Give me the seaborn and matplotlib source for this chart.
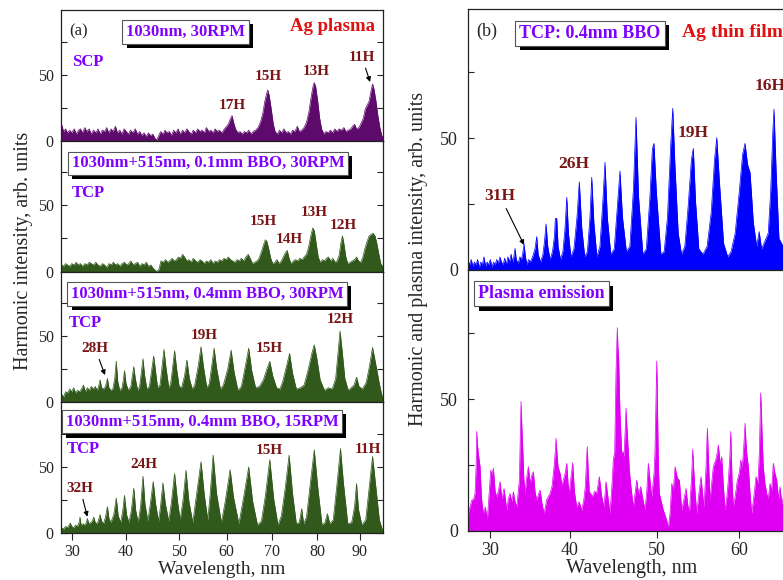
"""
HHG spectra from Ag plasma / Ag thin film (single- and two-colour pump)
"""
import numpy as np
import pandas as pd
import matplotlib
matplotlib.use("Agg")
import matplotlib.pyplot as plt
import matplotlib.patheffects as pe
from matplotlib.ticker import MultipleLocator, NullLocator
import seaborn as sns

# (wavelength nm, intensity arb. units)
scp_30rpm = [
    (27.93, 10), (28.14, 12), (28.5, 7), (28.86, 9), (29.22, 6), (29.64, 8), (30.0, 6), (30.45, 9),
    (30.9, 5), (31.26, 8), (31.62, 9), (31.98, 6), (32.43, 10), (32.79, 7), (33.24, 9), (33.6, 5),
    (34.05, 8), (34.5, 6), (34.86, 9), (35.31, 5), (35.67, 8), (36.12, 7), (36.48, 10), (36.84, 6),
    (37.29, 9), (37.65, 7), (38.1, 11), (38.46, 6), (38.91, 8), (39.28, 5), (39.72, 9), (40.09, 7),
    (40.54, 5), (40.9, 8), (41.35, 6), (41.8, 9), (42.17, 5), (42.62, 7), (42.98, 4), (43.43, 6),
    (43.8, 3), (44.25, 6), (44.61, 4), (45.07, 5), (45.43, 2), (45.79, 0.5), (46.16, 4), (46.52, 7),
    (46.97, 5), (47.33, 8), (47.7, 6), (48.15, 7), (48.51, 4), (48.96, 8), (49.33, 6), (49.78, 9),
    (50.18, 5), (50.69, 8), (51.1, 6), (51.61, 9), (52.02, 7), (52.53, 5), (52.94, 8), (53.45, 6),
    (53.86, 9), (54.38, 7), (54.79, 8), (55.3, 6), (55.71, 10), (56.22, 7), (56.63, 8), (57.14, 6),
    (57.55, 9), (58.06, 7), (58.47, 8), (58.98, 6), (59.5, 9), (60.01, 11), (60.43, 13), (60.86, 17),
    (61.18, 19), (61.5, 14), (61.93, 9), (62.47, 6), (62.9, 7), (63.44, 5), (63.87, 7), (64.4, 6),
    (64.83, 8), (65.37, 5), (65.8, 7), (66.34, 8), (66.87, 10), (67.4, 14), (67.94, 21), (68.37, 30),
    (68.8, 36), (69.02, 38.5), (69.34, 34), (69.77, 24), (70.2, 13), (70.63, 7), (71.17, 5), (71.6, 8),
    (72.13, 6), (72.56, 9), (73.1, 6), (73.54, 7), (74.07, 5), (74.5, 8), (75.03, 7), (75.57, 11),
    (76.0, 7), (76.54, 8), (77.07, 10), (77.61, 14), (78.15, 22), (78.68, 34), (79.11, 42), (79.33, 44),
    (79.65, 41), (80.1, 30), (80.56, 17), (81.01, 9), (81.58, 5), (82.03, 7), (82.6, 6), (83.06, 8),
    (83.63, 6), (84.08, 9), (84.65, 7), (85.1, 9), (85.67, 8), (86.24, 10), (86.69, 7), (87.26, 8),
    (87.83, 9), (88.29, 11), (88.74, 12.5), (89.2, 9), (89.77, 10), (90.22, 13), (90.79, 17), (91.24, 24),
    (91.7, 27), (92.15, 30), (92.61, 38), (92.95, 43), (93.29, 39), (93.75, 30), (94.2, 19), (94.66, 10),
    (95.11, 4), (95.45, 2),
]

tcp_01mm_30rpm = [
    (27.93, 3), (28.14, 5), (28.5, 4), (28.86, 6), (29.22, 5), (29.64, 4), (30.0, 6), (30.45, 5),
    (30.82, 7), (31.18, 5), (31.63, 6), (31.99, 4), (32.45, 6), (32.81, 5), (33.26, 7), (33.62, 6),
    (34.08, 5), (34.44, 7), (34.89, 5), (35.25, 4), (35.71, 6), (36.07, 5), (36.52, 3), (36.89, 6),
    (37.34, 5), (37.7, 7), (38.15, 5), (38.52, 6), (38.97, 4), (39.33, 6), (39.78, 7), (40.15, 5),
    (40.6, 6), (40.96, 8), (41.42, 5), (41.78, 6), (42.23, 7), (42.59, 4), (43.05, 6), (43.41, 5),
    (43.86, 7), (44.22, 4), (44.68, 5), (45.04, 3), (45.49, 1), (45.86, 0), (46.22, 2), (46.58, 8),
    (47.03, 7), (47.4, 9), (47.85, 7), (48.21, 8), (48.66, 10), (49.03, 8), (49.48, 9), (49.84, 11),
    (50.28, 10), (50.69, 13), (51.1, 11), (51.61, 8), (52.02, 9), (52.53, 7), (52.94, 10), (53.45, 8),
    (53.86, 7), (54.38, 9), (54.79, 8), (55.3, 6), (55.71, 8), (56.22, 7), (56.63, 9), (57.14, 6),
    (57.55, 8), (58.06, 7), (58.47, 9), (58.98, 8), (59.39, 10), (59.9, 9), (60.32, 11), (60.86, 9),
    (61.29, 8), (61.82, 7), (62.26, 9), (62.79, 8), (63.22, 10), (63.76, 8), (64.19, 11), (64.72, 13),
    (65.15, 10), (65.69, 6), (66.12, 7), (66.66, 8), (67.09, 10), (67.62, 15), (68.05, 20), (68.48, 24),
    (68.8, 23), (69.23, 17), (69.66, 10), (70.09, 6), (70.63, 7), (71.06, 9), (71.49, 6), (72.02, 8),
    (72.45, 11), (72.88, 14), (73.31, 16), (73.74, 10), (74.17, 6), (74.71, 8), (75.14, 9), (75.68, 8),
    (76.11, 10), (76.65, 9), (77.07, 11), (77.61, 13), (78.04, 18), (78.57, 27), (79.0, 33), (79.33, 31),
    (79.76, 21), (80.22, 11), (80.67, 7), (81.24, 9), (81.69, 8), (82.15, 10), (82.6, 11), (83.17, 8),
    (83.63, 10), (84.2, 7), (84.65, 8), (85.1, 12), (85.56, 22), (85.9, 27), (86.24, 21), (86.69, 11),
    (87.15, 6), (87.72, 7), (88.17, 8), (88.74, 9), (89.2, 11), (89.65, 8), (90.22, 7), (90.68, 11),
    (91.13, 17), (91.7, 23), (92.15, 27), (92.61, 28), (93.06, 29), (93.52, 27), (93.97, 21), (94.43, 13),
    (94.88, 6), (95.45, 3),
]

tcp_04mm_30rpm = [
    (27.93, 11), (28.14, 6), (28.5, 4), (28.86, 8), (29.22, 7), (29.64, 10), (30.0, 8), (30.36, 11),
    (30.72, 7), (31.09, 9), (31.45, 8), (31.81, 10), (32.17, 13), (32.54, 8), (32.9, 11), (33.26, 9),
    (33.62, 12), (33.99, 10), (34.35, 12), (34.71, 9), (34.98, 12), (35.25, 17), (35.53, 11), (35.89, 10),
    (36.25, 12), (36.61, 18), (36.89, 11), (37.25, 9), (37.61, 10), (37.97, 18), (38.25, 31), (38.52, 16),
    (38.88, 9), (39.33, 11), (39.6, 18), (39.78, 24), (40.06, 14), (40.51, 9), (40.96, 12), (41.24, 20),
    (41.51, 27), (41.78, 18), (42.23, 9), (42.59, 12), (42.96, 24), (43.23, 33), (43.5, 21), (43.95, 10),
    (44.41, 12), (44.86, 25), (45.22, 35), (45.49, 26), (45.95, 11), (46.4, 13), (46.76, 26), (47.13, 40),
    (47.49, 27), (48.03, 11), (48.39, 14), (48.76, 27), (49.12, 39), (49.48, 26), (49.97, 12), (50.48, 11),
    (51.1, 20), (51.61, 32), (52.12, 18), (52.74, 10), (53.25, 13), (53.97, 27), (54.58, 42), (55.09, 27),
    (55.81, 11), (56.32, 14), (56.83, 27), (57.34, 41), (57.86, 26), (58.68, 10), (59.29, 13), (60.22, 25),
    (60.97, 39.5), (61.61, 23), (62.47, 9), (63.22, 12), (64.08, 27), (64.83, 41), (65.48, 24), (66.34, 11),
    (67.2, 12), (68.05, 17), (68.8, 25), (69.45, 31), (70.09, 20), (70.95, 11), (71.7, 10), (72.35, 16),
    (73.2, 28), (73.85, 37), (74.5, 22), (75.35, 10), (76.22, 11), (77.07, 13), (77.93, 24), (78.79, 37),
    (79.33, 43.5), (79.87, 34), (80.67, 17), (81.69, 9), (82.6, 11), (83.51, 10), (84.31, 18), (84.88, 38),
    (85.33, 54), (85.79, 40), (86.46, 18), (87.26, 9), (87.94, 11), (88.63, 13), (89.2, 19), (89.77, 12),
    (90.56, 10), (91.47, 15), (92.27, 28), (92.95, 41.5), (93.63, 30), (94.43, 16), (95.0, 7), (95.45, 2),
]

tcp_04mm_15rpm = [
    (27.93, 2), (28.14, 4), (28.5, 3), (28.86, 5), (29.22, 4), (29.73, 7.5), (30.0, 5), (30.36, 4),
    (30.72, 6), (31.09, 5), (31.36, 8), (31.54, 12), (31.72, 6), (32.08, 7), (32.45, 6), (32.72, 8),
    (32.9, 11), (33.17, 7), (33.53, 8), (33.8, 9), (34.08, 12), (34.35, 8), (34.71, 7), (34.98, 10),
    (35.25, 14), (35.53, 9), (35.89, 7), (36.25, 12), (36.61, 20), (36.89, 11), (37.25, 8), (37.79, 14),
    (38.25, 26.5), (38.61, 13), (39.06, 8), (39.42, 16), (39.78, 28.5), (40.15, 14), (40.6, 8), (41.05, 17),
    (41.51, 34), (41.87, 17), (42.32, 8), (42.77, 20), (43.23, 43), (43.59, 22), (44.13, 9), (44.59, 22),
    (45.13, 39), (45.58, 22), (46.13, 9), (46.49, 20), (46.94, 38), (47.4, 22), (48.03, 9), (48.48, 22),
    (49.12, 45), (49.66, 24), (50.18, 10), (50.79, 25), (51.41, 47.5), (52.02, 24), (52.84, 8), (53.56, 27),
    (54.58, 54), (55.3, 28), (56.01, 10), (56.53, 30), (57.14, 59), (57.86, 30), (58.88, 8), (59.7, 24),
    (60.75, 48), (61.5, 27), (62.68, 7), (63.76, 28), (64.83, 50), (65.69, 24), (66.76, 6), (67.62, 9),
    (68.48, 28), (69.45, 55.5), (70.31, 26), (71.27, 6), (72.02, 13), (72.88, 34), (73.74, 59), (74.5, 30),
    (75.35, 7), (76.0, 8), (76.54, 18.4), (76.97, 7), (77.61, 12), (78.47, 38), (79.33, 63), (80.1, 35),
    (81.12, 6), (81.8, 8), (82.37, 14.6), (82.94, 7), (83.74, 10), (84.65, 38), (85.44, 64), (86.12, 38),
    (87.15, 7), (88.06, 8), (88.74, 20), (89.2, 37.4), (89.65, 18), (90.45, 6), (91.36, 10), (92.15, 34),
    (92.95, 58), (93.75, 34), (94.54, 10), (95.11, 4), (95.45, 1),
]

film_tcp = [
    (27.16, 4), (27.4, 2), (27.6, 4), (27.8, 1.5), (28.0, 3), (28.2, 2), (28.4, 4), (28.6, 1),
    (28.8, 3), (29.0, 2), (29.2, 5), (29.4, 1.5), (29.6, 3), (29.8, 2), (30.0, 4), (30.2, 1),
    (30.4, 3), (30.6, 2), (30.8, 4), (31.0, 2.5), (31.2, 5), (31.4, 3), (31.6, 2), (31.8, 4.5),
    (32.0, 2), (32.2, 5), (32.4, 3), (32.6, 6), (32.8, 3), (32.95, 5), (33.1, 8.2), (33.25, 4),
    (33.5, 2.5), (33.7, 5), (33.9, 4), (34.05, 6), (34.23, 9.9), (34.4, 5), (34.6, 2), (34.8, 4),
    (35.0, 3), (35.3, 5), (35.6, 8), (35.82, 12.7), (36.0, 6), (36.3, 3), (36.6, 6), (36.8, 11),
    (36.99, 17.5), (37.2, 9), (37.5, 4), (37.8, 7), (38.05, 13), (38.15, 19.6), (38.33, 19.6), (38.5, 9),
    (38.8, 4), (39.1, 7), (39.35, 15), (39.59, 27.6), (39.8, 14), (40.1, 5), (40.45, 8), (40.8, 20),
    (41.07, 33.5), (41.35, 16), (41.7, 5), (42.0, 7), (42.3, 20), (42.5, 35.2), (42.75, 18), (43.1, 5),
    (43.45, 9), (43.8, 27), (44.03, 40.9), (44.3, 20), (44.7, 6), (45.1, 8), (45.45, 24), (45.76, 37.6),
    (46.05, 20), (46.5, 7), (46.9, 9), (47.3, 30), (47.61, 58), (47.9, 28), (48.4, 6), (48.8, 8),
    (49.2, 27), (49.5, 46), (49.68, 48.1), (49.95, 30), (50.5, 6), (50.9, 7), (51.3, 20), (51.7, 48),
    (51.94, 61.4), (52.2, 40), (52.6, 14), (53.0, 6), (53.4, 9), (53.8, 24), (54.2, 42), (54.43, 46.2),
    (54.7, 26), (55.1, 8), (55.6, 6), (56.1, 9), (56.6, 22), (57.0, 42), (57.27, 50.3), (57.6, 33),
    (58.1, 10), (58.6, 5), (59.0, 7), (59.5, 14), (60.0, 30), (60.4, 44), (60.69, 48.1), (61.0, 40),
    (61.3, 37), (61.7, 18), (62.1, 9), (62.4, 14.6), (62.7, 8), (63.1, 11), (63.5, 14), (63.8, 30),
    (64.05, 52), (64.2, 61.1), (64.45, 38), (64.8, 12), (65.3, 9), (65.6, 6), (66.0, 5), (66.5, 4),
    (66.9, 3),
]

film_plasma = [
    (27.16, 5), (27.24, 6.5), (27.45, 9), (27.67, 11.6), (27.9, 12), (28.08, 14.1), (28.22, 25), (28.29, 37.7),
    (28.38, 33), (28.49, 29.4), (28.71, 24.3), (28.9, 12), (29.12, 6.5), (29.37, 9.0), (29.62, 4.2), (29.85, 14),
    (30.05, 23), (30.2, 21), (30.38, 23.7), (30.6, 15), (30.8, 12.8), (31.0, 15), (31.22, 18.6), (31.45, 12),
    (31.72, 16), (32.06, 7.8), (32.25, 12), (32.47, 14.1), (32.7, 11), (32.89, 14.8), (33.1, 11), (33.31, 9),
    (33.64, 19), (33.78, 40), (33.85, 49.1), (33.95, 40), (34.06, 31.9), (34.2, 20), (34.35, 14.1), (34.55, 20),
    (34.77, 24.3), (35.0, 18), (35.2, 21), (35.4, 22.4), (35.6, 15), (35.82, 11.6), (36.05, 14), (36.24, 15.4),
    (36.5, 10), (36.74, 6.5), (37.1, 12), (37.49, 14.1), (37.75, 17), (37.99, 24.3), (38.15, 30), (38.24, 35.1),
    (38.35, 30), (38.49, 24.3), (38.75, 21.8), (39.0, 17), (39.16, 19.2), (39.4, 22), (39.59, 25.6), (39.75, 18),
    (39.91, 14.1), (40.1, 20), (40.31, 25.8), (40.5, 15), (40.77, 9), (41.05, 11), (41.35, 7.8), (41.6, 12),
    (41.76, 16.7), (41.92, 28), (41.99, 31.9), (42.08, 24), (42.22, 14.8), (42.6, 13), (42.85, 15), (43.07, 14.1),
    (43.38, 20.5), (43.65, 13), (43.92, 9), (44.15, 18.6), (44.4, 12), (44.61, 6.5), (44.85, 18), (44.99, 26.8),
    (45.15, 30), (45.3, 60), (45.45, 77.1), (45.52, 70), (45.61, 65.6), (45.68, 55), (45.76, 44.7), (45.96, 29.4),
    (46.1, 30), (46.22, 28.1), (46.36, 38), (46.46, 46.6), (46.55, 40), (46.65, 34.5), (46.84, 23), (47.05, 16),
    (47.3, 9), (47.5, 14), (47.69, 19.2), (47.9, 14), (48.15, 16.7), (48.4, 12), (48.65, 7.8), (48.85, 15),
    (49.03, 25.6), (49.2, 20), (49.42, 12.8), (49.69, 21.8), (49.8, 30), (49.88, 44.7), (50.0, 64.4), (50.06, 55),
    (50.12, 40.8), (50.2, 25), (50.32, 14.1), (50.55, 11), (50.8, 7.8), (51.0, 6), (51.21, 3.9), (51.4, 0.8),
    (51.61, 6.5), (51.82, 17.9), (52.0, 15), (52.22, 24.3), (52.5, 20), (52.74, 19.2), (53.03, 7.8), (53.3, 12),
    (53.55, 16), (53.75, 10), (53.95, 6.5), (54.2, 19.2), (54.36, 30.9), (54.45, 25), (54.6, 16.7), (54.84, 6.5),
    (55.1, 14), (55.36, 20.5), (55.55, 14), (55.73, 9), (55.97, 24.3), (56.13, 38.9), (56.3, 24.3), (56.45, 11.6),
    (56.65, 18), (56.85, 24.3), (57.15, 27), (57.35, 30), (57.46, 32.6), (57.7, 25), (57.87, 28.1), (58.05, 18),
    (58.27, 7.8), (58.5, 13), (58.67, 19.2), (58.85, 28), (58.96, 37.7), (59.12, 19.2), (59.27, 9), (59.5, 13),
    (59.76, 19.2), (60.0, 22), (60.17, 26.8), (60.35, 24), (60.48, 29.4), (60.62, 36), (60.69, 40.8), (60.8, 34),
    (60.9, 29.4), (61.09, 24.3), (61.3, 14), (61.5, 6.5), (61.8, 14), (62.02, 20.5), (62.25, 18), (62.42, 29.4),
    (62.52, 42), (62.59, 52.3), (62.68, 45), (62.75, 37), (62.9, 24.3), (63.1, 18), (63.32, 14.1), (63.5, 12),
    (63.72, 17.9), (63.9, 15), (64.12, 25.6), (64.3, 22), (64.53, 19.2), (64.75, 12), (64.93, 16.7), (65.15, 10),
    (65.33, 12.8), (65.7, 10), (66.1, 14), (66.5, 8), (66.9, 11),
]

# the wavelength axes of the original are slightly non-uniform:
# where each labelled tick sits (pixels from the left of the picture)
left_tick_nm = [20, 30, 40, 50, 60, 70, 80, 90, 100]
left_tick_px = [17.7, 71.7, 125.7, 179.3, 226.7, 272.3, 317.3, 360.0, 402.7]
right_tick_nm = [20, 30, 40, 50, 60, 100]
right_tick_px = [410.6, 490.3, 570.0, 656.7, 739.3, 1069.7]

PURPLE = "#5e0a6c"
GREEN = "#30591b"
BLUE = "#0000ff"
MAGENTA = "#df00f3"
MAROON = "#7a1616"
VIOLET = "#7f00ff"
RED = "#e01010"

W, H = 783, 580


def warp(nm, px):
    def fwd(x):
        return np.interp(x, nm, px)

    def inv(p):
        return np.interp(p, px, nm)
    return fwd, inv


def px_axes(fig, x0, y0, x1, y1):
    return fig.add_axes([x0 / W, 1 - y1 / H, (x1 - x0) / W, (y1 - y0) / H])


def draw_spectrum(ax, pts, color):
    df = pd.DataFrame(pts, columns=["wl", "inten"])
    ax.fill_between(df["wl"], df["inten"], 0, color=color, lw=0)
    sns.lineplot(data=df, x="wl", y="inten", ax=ax, color=color, lw=0.5,
                 sort=False, legend=False)
    ax.set(xlabel="", ylabel="")


def style_axes(ax, scale, xlim, size, bottom):
    ax.set_xscale("function", functions=scale)
    ax.set_xlim(*xlim)
    ax.set_ylim(0, 99)
    ax.xaxis.set_major_locator(MultipleLocator(10))
    ax.xaxis.set_minor_locator(NullLocator())
    ax.yaxis.set_major_locator(MultipleLocator(50))
    ax.yaxis.set_minor_locator(MultipleLocator(25))
    ax.tick_params(axis="y", which="both", direction="in", left=True, right=True,
                   length=4, width=0.8, labelsize=size, pad=5)
    ax.tick_params(axis="x", direction="out", length=5, width=0.8, labelsize=size,
                   bottom=bottom, labelbottom=bottom, pad=3)
    for s in ax.spines.values():
        s.set_linewidth(0.9)
        s.set_color("#222222")


def box_label(ax, x, y, s, size, transform=None):
    t = ax.text(x, y, s, transform=transform or ax.transData, ha="left", va="center",
                color=VIOLET, fontsize=size, fontweight="bold",
                bbox=dict(boxstyle="square,pad=0.22", fc="white", ec="#555555", lw=0.8))
    t.get_bbox_patch().set_path_effects(
        [pe.withSimplePatchShadow(offset=(3, -3), shadow_rgbFace="black", alpha=1.0)])


def harm(ax, labels, size, arrow=None):
    for s, x, y in labels:
        ax.text(x, y, s, ha="center", va="center", color=MAROON,
                fontsize=size, fontweight="bold")
    if arrow:
        s, x, y, tx, ty = arrow
        ax.annotate(s, xy=(tx, ty), xytext=(x, y), ha="center", va="center",
                    color=MAROON, fontsize=size, fontweight="bold",
                    arrowprops=dict(arrowstyle="-|>", color="black", lw=0.8,
                                    mutation_scale=7, shrinkA=1, shrinkB=0))


sns.set_style("ticks")
plt.rcParams["font.family"] = "serif"
plt.rcParams["font.serif"] = ["Liberation Serif", "DejaVu Serif"]
plt.rcParams["mathtext.fontset"] = "stix"

fig = plt.figure(figsize=(7.83, 5.80), dpi=100)

# ---- (a) Ag plasma, four stacked panels ----
left_scale = warp(left_tick_nm, left_tick_px)
left_lim = (27.96, 95.33)
spectra = [scp_30rpm, tcp_01mm_30rpm, tcp_04mm_30rpm, tcp_04mm_15rpm]
colors = [PURPLE, GREEN, GREEN, GREEN]
top, step = 10.0, 130.75
axes_a = []
for i, (pts, c) in enumerate(zip(spectra, colors)):
    ax = px_axes(fig, 60.7, top + i * step, 382.7, top + (i + 1) * step)
    draw_spectrum(ax, pts, c)
    style_axes(ax, left_scale, left_lim, 11.5, bottom=(i == 3))
    axes_a.append(ax)

a1, a2, a3, a4 = axes_a
a1.text(0.027, 0.84, "(a)", transform=a1.transAxes, ha="left", va="center", fontsize=12)
box_label(a1, 0.203, 0.832, "1030nm, 30RPM", 12, a1.transAxes)
a1.text(0.843, 0.87, "Ag plasma", transform=a1.transAxes, ha="center", va="center",
        color=RED, fontsize=13.5, fontweight="bold")
a1.text(0.034, 0.60, "SCP", transform=a1.transAxes, ha="left", va="center",
        color=VIOLET, fontsize=12, fontweight="bold")
harm(a1, [("17H", 61.18, 27), ("15H", 69.02, 48.3), ("13H", 79.76, 52.3)], 11,
     arrow=("11H", 90.45, 63.4, 92.38, 44.5))

box_label(a2, 0.034, 0.828, "1030nm+515nm, 0.1mm BBO, 30RPM", 12, a2.transAxes)
a2.text(0.034, 0.598, "TCP", transform=a2.transAxes, ha="left", va="center",
        color=VIOLET, fontsize=12, fontweight="bold")
harm(a2, [("15H", 68.05, 37.7), ("14H", 73.85, 23.9), ("13H", 79.33, 44.5),
          ("12H", 86.13, 34.5)], 11)

box_label(a3, 0.032, 0.828, "1030nm+515nm, 0.4mm BBO, 30RPM", 12, a3.transAxes)
a3.text(0.026, 0.608, "TCP", transform=a3.transAxes, ha="left", va="center",
        color=VIOLET, fontsize=12, fontweight="bold")
harm(a3, [("19H", 55.2, 50.9), ("15H", 69.45, 40.9), ("12H", 85.33, 62.3)], 11,
     arrow=("28H", 34.32, 40.9, 36.17, 20.6))

box_label(a4, 0.015, 0.851, "1030nm+515nm, 0.4mm BBO, 15RPM", 12, a4.transAxes)
a4.text(0.018, 0.64, "TCP", transform=a4.transAxes, ha="left", va="center",
        color=VIOLET, fontsize=12, fontweight="bold")
harm(a4, [("24H", 43.32, 51.5), ("15H", 69.45, 62.3), ("11H", 91.91, 63.4)], 11,
     arrow=("32H", 31.54, 33.9, 32.9, 12.3))
a4.set_xlabel("Wavelength, nm", fontsize=14, labelpad=1)

fig.text(24 / W, 1 - 251 / H, "Harmonic intensity, arb. units", rotation=90,
         ha="center", va="center", fontsize=14.5)

# ---- (b) Ag thin film ----
right_scale = warp(right_tick_nm, right_tick_px)
right_lim = (27.16, 66.9)
b1 = px_axes(fig, 467.7, 9.3, 796.3, 270.0)
draw_spectrum(b1, film_tcp, BLUE)
style_axes(b1, right_scale, right_lim, 13, bottom=False)
b1.tick_params(axis="y", pad=7)

b2 = px_axes(fig, 467.7, 270.0, 796.3, 530.7)
draw_spectrum(b2, film_plasma, MAGENTA)
style_axes(b2, right_scale, right_lim, 13, bottom=True)
b2.tick_params(axis="y", pad=7)
b2.set_xlabel("Wavelength, nm", fontsize=14.5, labelpad=0)

b1.text(28.29, 90.5, "(b)", ha="left", va="center", fontsize=13)
box_label(b1, 33.64, 89.8, "TCP: 0.4mm BBO", 13)
b1.text(53.03, 90.2, "Ag thin film", ha="left", va="center", color=RED,
        fontsize=14, fontweight="bold")
harm(b1, [("16H", 63.7, 69.9), ("19H", 54.43, 51.9), ("26H", 40.38, 40.1)], 12.5,
     arrow=("31H", 31.22, 28.1, 34.23, 9.5))
box_label(b2, 28.5, 89.9, "Plasma emission", 13)

fig.text(418.5 / W, 1 - 258.5 / H, "Harmonic and plasma intensity, arb. units",
         rotation=90, ha="center", va="center", fontsize=14.5)

fig.savefig("out.png", dpi=100)
plt.close(fig)
